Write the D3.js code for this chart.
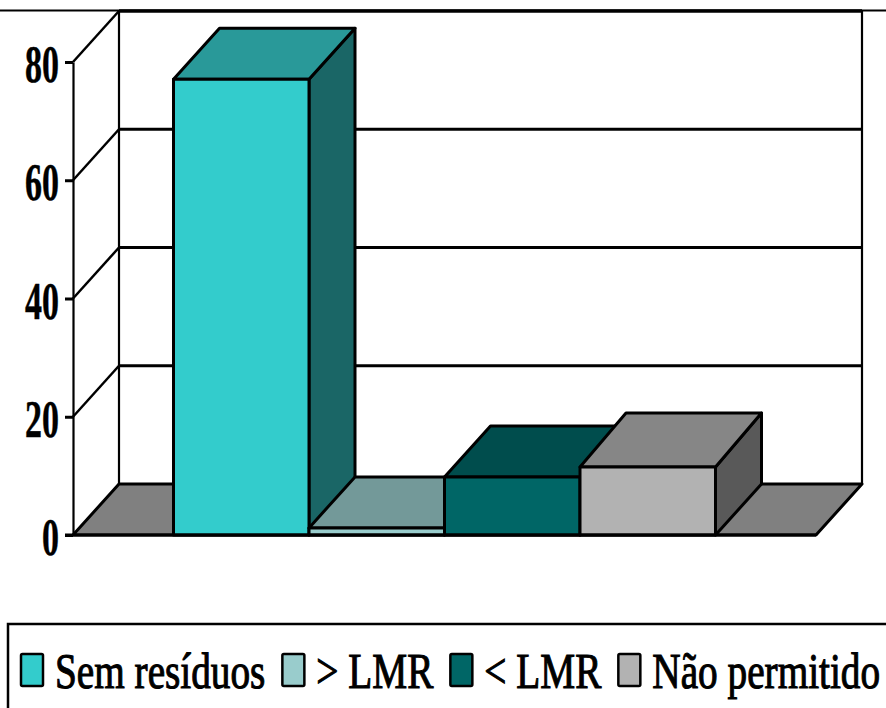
<!DOCTYPE html>
<html>
<head>
<meta charset="utf-8">
<style type="text/css">
	html, body {
		margin: 0;
		padding: 0;
		background: #fff;
	}
	svg {
		display: block;
	}
	.tick-label {
		font-family: "Liberation Serif", serif;
		font-weight: 700;
		font-size: 53px;
		stroke: #000;
		stroke-width: 0.5;
	}
	.legend-label {
		font-family: "Liberation Serif", serif;
		font-size: 50px;
		stroke: #000;
		stroke-width: 1.1;
	}
</style>
</head>
<body>
<div id="vis"></div>
<script src="https://d3js.org/d3.v7.min.js"></script>
<script>

	// Data
	const categories = ["Sem resíduos", "> LMR", "< LMR", "Não permitido"];
	const values = [77.1, 1.2, 9.8, 11.5];
	const tickValues = [0, 20, 40, 60, 80];

	// Face colours of each bar
	const frontColors = ["#33cccc", "#99cccc", "#006666", "#b2b2b2"];
	const topColors = ["#299999", "#739999", "#004d4d", "#868686"];
	const sideColors = ["#1a6666", "#4d6666", "#003333", "#595959"];

	const width = 886,
		height = 708;

	// Offset of the back wall from the front plane
	const depth = {x: 46, y: -51};

	// The last bar's top sits slightly deeper than the others
	const topRise = [0, 0, 0, 3];

	const svg = d3.select("#vis")
		.append("svg")
		.attr("width", width)
		.attr("height", height);

	// Scales
	const y = d3.scaleLinear().domain([0, 80]).range([535, 62]);
	const x = d3.scaleBand().domain(categories).range([173.5, 715.5]);
	const plotLeft = 73,
		plotRight = 816;

	const line = d3.line();

	// Shift a front plane point to the back plane
	function back(p, rise) {
		return [p[0] + depth.x, p[1] + depth.y - (rise || 0)];
	}

	// Closed polygon with black outline
	function face(pts, fill, sw) {
		svg.append("path")
			.attr("d", line(pts) + "Z")
			.attr("fill", fill)
			.attr("stroke", "#000")
			.attr("stroke-width", sw)
			.attr("stroke-linejoin", "round");
	}

	// Top border of the plot: thin outside the back wall, heavy along it
	svg.append("line")
		.attr("x1", 0).attr("x2", width)
		.attr("y1", 10.5).attr("y2", 10.5)
		.attr("stroke", "#000").attr("stroke-width", 2);
	svg.append("line")
		.attr("x1", plotLeft + depth.x).attr("x2", plotRight + depth.x)
		.attr("y1", 11).attr("y2", 11)
		.attr("stroke", "#000").attr("stroke-width", 3.5);

	// Back wall gridlines and the diagonals on the side wall
	tickValues.slice(1).forEach(function(t) {
		let a = [plotLeft, y(t)],
			b = back(a);
		svg.append("path")
			.attr("d", line([a, b]))
			.attr("fill", "none").attr("stroke", "#000").attr("stroke-width", 2.5);
		if (t < 80) {
			svg.append("path")
				.attr("d", line([b, [plotRight + depth.x, b[1]]]))
				.attr("fill", "none").attr("stroke", "#000").attr("stroke-width", 3);
		}
	});

	// Wall verticals
	[plotLeft + depth.x, plotRight + depth.x].forEach(function(vx) {
		svg.append("line")
			.attr("x1", vx).attr("x2", vx)
			.attr("y1", y(80) + depth.y).attr("y2", y(0) + depth.y)
			.attr("stroke", "#000").attr("stroke-width", 2.2);
	});

	// Floor
	face([[plotLeft, y(0)], [plotRight, y(0)], back([plotRight, y(0)]), back([plotLeft, y(0)])], "#808080", 3);

	// Y axis
	const yAxis = d3.axisLeft(y).tickValues(tickValues).tickSize(0);
	const axisG = svg.append("g")
		.attr("transform", "translate(" + plotLeft + ",0)")
		.call(yAxis);
	axisG.select(".domain")
		.attr("stroke", "#000").attr("stroke-width", 2.2);
	axisG.selectAll(".tick")
		.append("line")
		.attr("x1", -8).attr("x2", 0)
		.attr("stroke", "#000").attr("stroke-width", 3);
	axisG.selectAll(".tick text").remove();
	svg.selectAll(".y-label")
		.data(tickValues)
		.enter().append("text")
		.attr("class", "tick-label")
		.attr("text-anchor", "end")
		.attr("transform", d => "translate(59," + (y(d) + 20) + ") scale(0.64,1)")
		.text(d => d);

	// Bars, drawn left to right so each one overlaps the previous
	categories.forEach(function(c, i) {
		let x0 = x(c),
			x1 = x0 + x.bandwidth(),
			yt = y(values[i]),
			yb = y(0);
		face([[x1, yb], back([x1, yb]), back([x1, yt], topRise[i]), [x1, yt]], sideColors[i], 3);
		face([[x0, yt], [x1, yt], back([x1, yt], topRise[i]), back([x0, yt], topRise[i])], topColors[i], 3);
		face([[x0, yb], [x1, yb], [x1, yt], [x0, yt]], frontColors[i], 3);
	});

	// Baseline in front of the bars
	svg.append("line")
		.attr("x1", plotLeft - 8).attr("x2", plotRight)
		.attr("y1", y(0)).attr("y2", y(0))
		.attr("stroke", "#000").attr("stroke-width", 3);

	// Legend box runs off the right and bottom edges
	svg.append("rect")
		.attr("x", 8).attr("y", 624)
		.attr("width", width).attr("height", height)
		.attr("fill", "none")
		.attr("stroke", "#000").attr("stroke-width", 2.5);

	// Legend entries, laid out from the measured text widths
	const textScale = 0.785;
	let legendX = 21;
	categories.forEach(function(c, i) {
		svg.append("rect")
			.attr("x", legendX).attr("y", 654)
			.attr("width", 22).attr("height", 32)
			.attr("rx", 1.5)
			.attr("fill", frontColors[i])
			.attr("stroke", "#000").attr("stroke-width", 2.5);
		let label = svg.append("text")
			.attr("class", "legend-label")
			.attr("transform", "translate(" + (legendX + 34) + ",688) scale(" + textScale + ",1)")
			.text(c);
		legendX += 34 + label.node().getComputedTextLength() * textScale + 17;
	});

</script>
</body>
</html>
